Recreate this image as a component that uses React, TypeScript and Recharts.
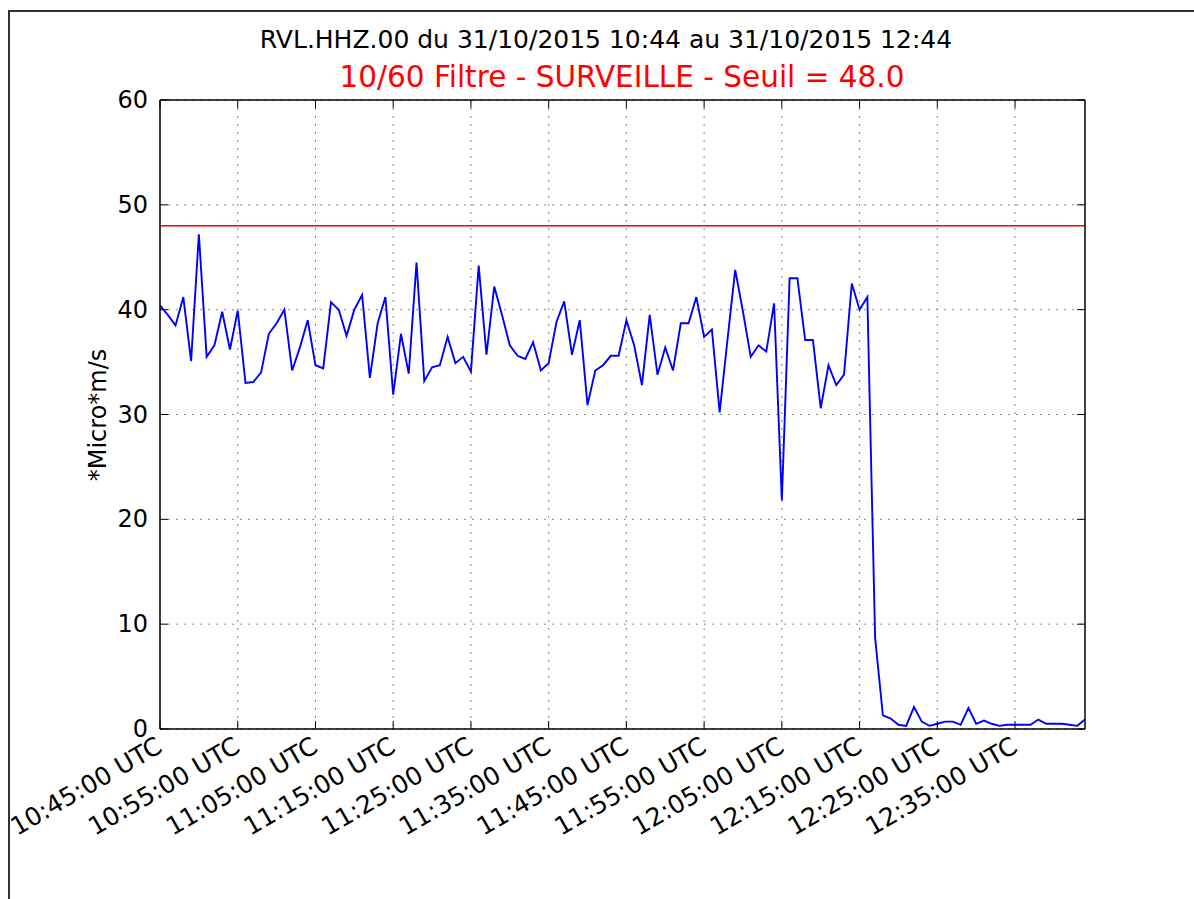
import React from "react";
import {
  LineChart,
  Line,
  XAxis,
  YAxis,
  CartesianGrid,
  ReferenceLine,
} from "recharts";

// one sample per minute starting 10:45 UTC
const values: number[] = [
  40.4, 39.5, 38.5, 41.2, 35.1, 47.2, 35.5, 36.6, 39.8, 36.2,
  39.9, 33.0, 33.1, 34.0, 37.7, 38.7, 40.0, 34.2, 36.4, 39.0,
  34.7, 34.4, 40.7, 40.0, 37.5, 40.0, 41.4, 33.5, 38.7, 41.2,
  31.9, 37.7, 33.9, 44.5, 33.2, 34.5, 34.7, 37.4, 34.9, 35.5,
  34.1, 44.2, 35.7, 42.2, 39.5, 36.6, 35.6, 35.3, 36.9, 34.2,
  34.9, 38.8, 40.8, 35.7, 39.0, 30.9, 34.2, 34.7, 35.6, 35.6,
  39.0, 36.6, 32.8, 39.5, 33.8, 36.4, 34.2, 38.7, 38.7, 41.2,
  37.4, 38.1, 30.2, 37.1, 43.8, 39.8, 35.5, 36.6, 36.0, 40.6,
  21.8, 43.0, 43.0, 37.1, 37.1, 30.6, 34.7, 32.8, 33.8, 42.5,
  40.0, 41.2, 8.7, 1.3, 1.0, 0.4, 0.3, 2.1, 0.7, 0.3,
  0.5, 0.7, 0.7, 0.4, 2.0, 0.5, 0.8, 0.5, 0.3, 0.4,
  0.4, 0.4, 0.4, 0.9, 0.5, 0.5, 0.5, 0.4, 0.3, 0.9,
];

const xTickPositions: number[] = [0, 10, 20, 30, 40, 50, 60, 70, 80, 90, 100, 110];
const xTickLabels: string[] = [
  "10:45:00 UTC",
  "10:55:00 UTC",
  "11:05:00 UTC",
  "11:15:00 UTC",
  "11:25:00 UTC",
  "11:35:00 UTC",
  "11:45:00 UTC",
  "11:55:00 UTC",
  "12:05:00 UTC",
  "12:15:00 UTC",
  "12:25:00 UTC",
  "12:35:00 UTC",
];
const yTicks: number[] = [0, 10, 20, 30, 40, 50, 60];
const threshold = 48.0;

const titleText = "RVL.HHZ.00 du 31/10/2015 10:44 au 31/10/2015 12:44";
const subtitleText = "10/60 Filtre - SURVEILLE - Seuil = 48.0";
const yLabelText = "*Micro*m/s";

const data = values.map((v, i) => ({ i, v }));

const FONT = "'DejaVu Sans', sans-serif";
const TICK_LEN = 8;

const BottomTick = (props: any) => {
  const { x, y, payload } = props;
  const idx = xTickPositions.indexOf(payload.value);
  const label = idx >= 0 ? xTickLabels[idx] : "";
  const tx = x + 4;
  const ty = y + 22;
  return (
    <g>
      <line x1={x} y1={y} x2={x} y2={y - TICK_LEN} stroke="#000" strokeWidth={1} />
      <text
        x={tx}
        y={ty}
        transform={`rotate(-30, ${tx}, ${ty})`}
        textAnchor="end"
        fontSize={25}
        fontFamily={FONT}
        fill="#000"
      >
        {label}
      </text>
    </g>
  );
};

const TopTick = (props: any) => {
  const { x, y } = props;
  return <line x1={x} y1={y} x2={x} y2={y + TICK_LEN} stroke="#000" strokeWidth={1} />;
};

const LeftTick = (props: any) => {
  const { x, y, payload } = props;
  return (
    <g>
      <line x1={x} y1={y} x2={x + TICK_LEN} y2={y} stroke="#000" strokeWidth={1} />
      <text
        x={x - 12}
        y={y + 8}
        textAnchor="end"
        fontSize={24}
        fontFamily={FONT}
        fill="#000"
      >
        {payload.value}
      </text>
    </g>
  );
};

const RightTick = (props: any) => {
  const { x, y } = props;
  return <line x1={x} y1={y} x2={x - TICK_LEN} y2={y} stroke="#000" strokeWidth={1} />;
};

export default function App() {
  return (
    <div style={{ position: "absolute", left: 0, top: 0, width: 1194, height: 899, background: "#fff" }}>
      <div style={{ position: "absolute", left: 0, top: 0 }}>
        <LineChart
          width={1194}
          height={899}
          data={data}
          margin={{ top: 99, right: 108, left: 100, bottom: 40 }}
        >
          <CartesianGrid
            stroke="#888"
            strokeDasharray="2 6"
            strokeWidth={1}
            horizontalValues={yTicks}
            verticalValues={xTickPositions}
          />
          <XAxis
            dataKey="i"
            type="number"
            domain={[0, 119]}
            ticks={xTickPositions}
            interval={0}
            height={130}
            tickSize={0}
            tickMargin={0}
            tickLine={false}
            axisLine={{ stroke: "#000", strokeWidth: 1.5 }}
            tick={<BottomTick />}
            allowDataOverflow
          />
          <XAxis
            xAxisId="top"
            orientation="top"
            dataKey="i"
            type="number"
            domain={[0, 119]}
            ticks={xTickPositions}
            interval={0}
            height={1}
            tickSize={0}
            tickMargin={0}
            tickLine={false}
            axisLine={{ stroke: "#000", strokeWidth: 1.5 }}
            tick={<TopTick />}
            allowDataOverflow
          />
          <YAxis
            type="number"
            domain={[0, 60]}
            ticks={yTicks}
            interval={0}
            width={60}
            tickSize={0}
            tickMargin={0}
            tickLine={false}
            axisLine={{ stroke: "#000", strokeWidth: 1.5 }}
            tick={<LeftTick />}
            allowDataOverflow
          />
          <YAxis
            yAxisId="right"
            orientation="right"
            type="number"
            domain={[0, 60]}
            ticks={yTicks}
            interval={0}
            width={1}
            tickSize={0}
            tickMargin={0}
            tickLine={false}
            axisLine={{ stroke: "#000", strokeWidth: 1.5 }}
            tick={<RightTick />}
            allowDataOverflow
          />
          <ReferenceLine y={threshold} stroke="#ff0000" strokeWidth={1.5} />
          <Line
            type="linear"
            dataKey="v"
            stroke="#0000ff"
            strokeWidth={1.9}
            dot={false}
            activeDot={false}
            isAnimationActive={false}
          />
        </LineChart>
      </div>
      <svg
        width={1194}
        height={899}
        style={{ position: "absolute", left: 0, top: 0, pointerEvents: "none" }}
      >
        <line x1={9} y1={11} x2={1194} y2={11} stroke="#333" strokeWidth={2} />
        <line x1={9} y1={10} x2={9} y2={899} stroke="#333" strokeWidth={2} />
        <text x={606} y={48} textAnchor="middle" fontSize={25} fontFamily={FONT} fill="#000">
          {titleText}
        </text>
        <text x={622} y={87} textAnchor="middle" fontSize={29.5} fontFamily={FONT} fill="#ff0000">
          {subtitleText}
        </text>
        <text
          x={106}
          y={415}
          transform="rotate(-90, 106, 415)"
          textAnchor="middle"
          fontSize={24}
          fontFamily={FONT}
          fill="#000"
        >
          {yLabelText}
        </text>
      </svg>
    </div>
  );
}
